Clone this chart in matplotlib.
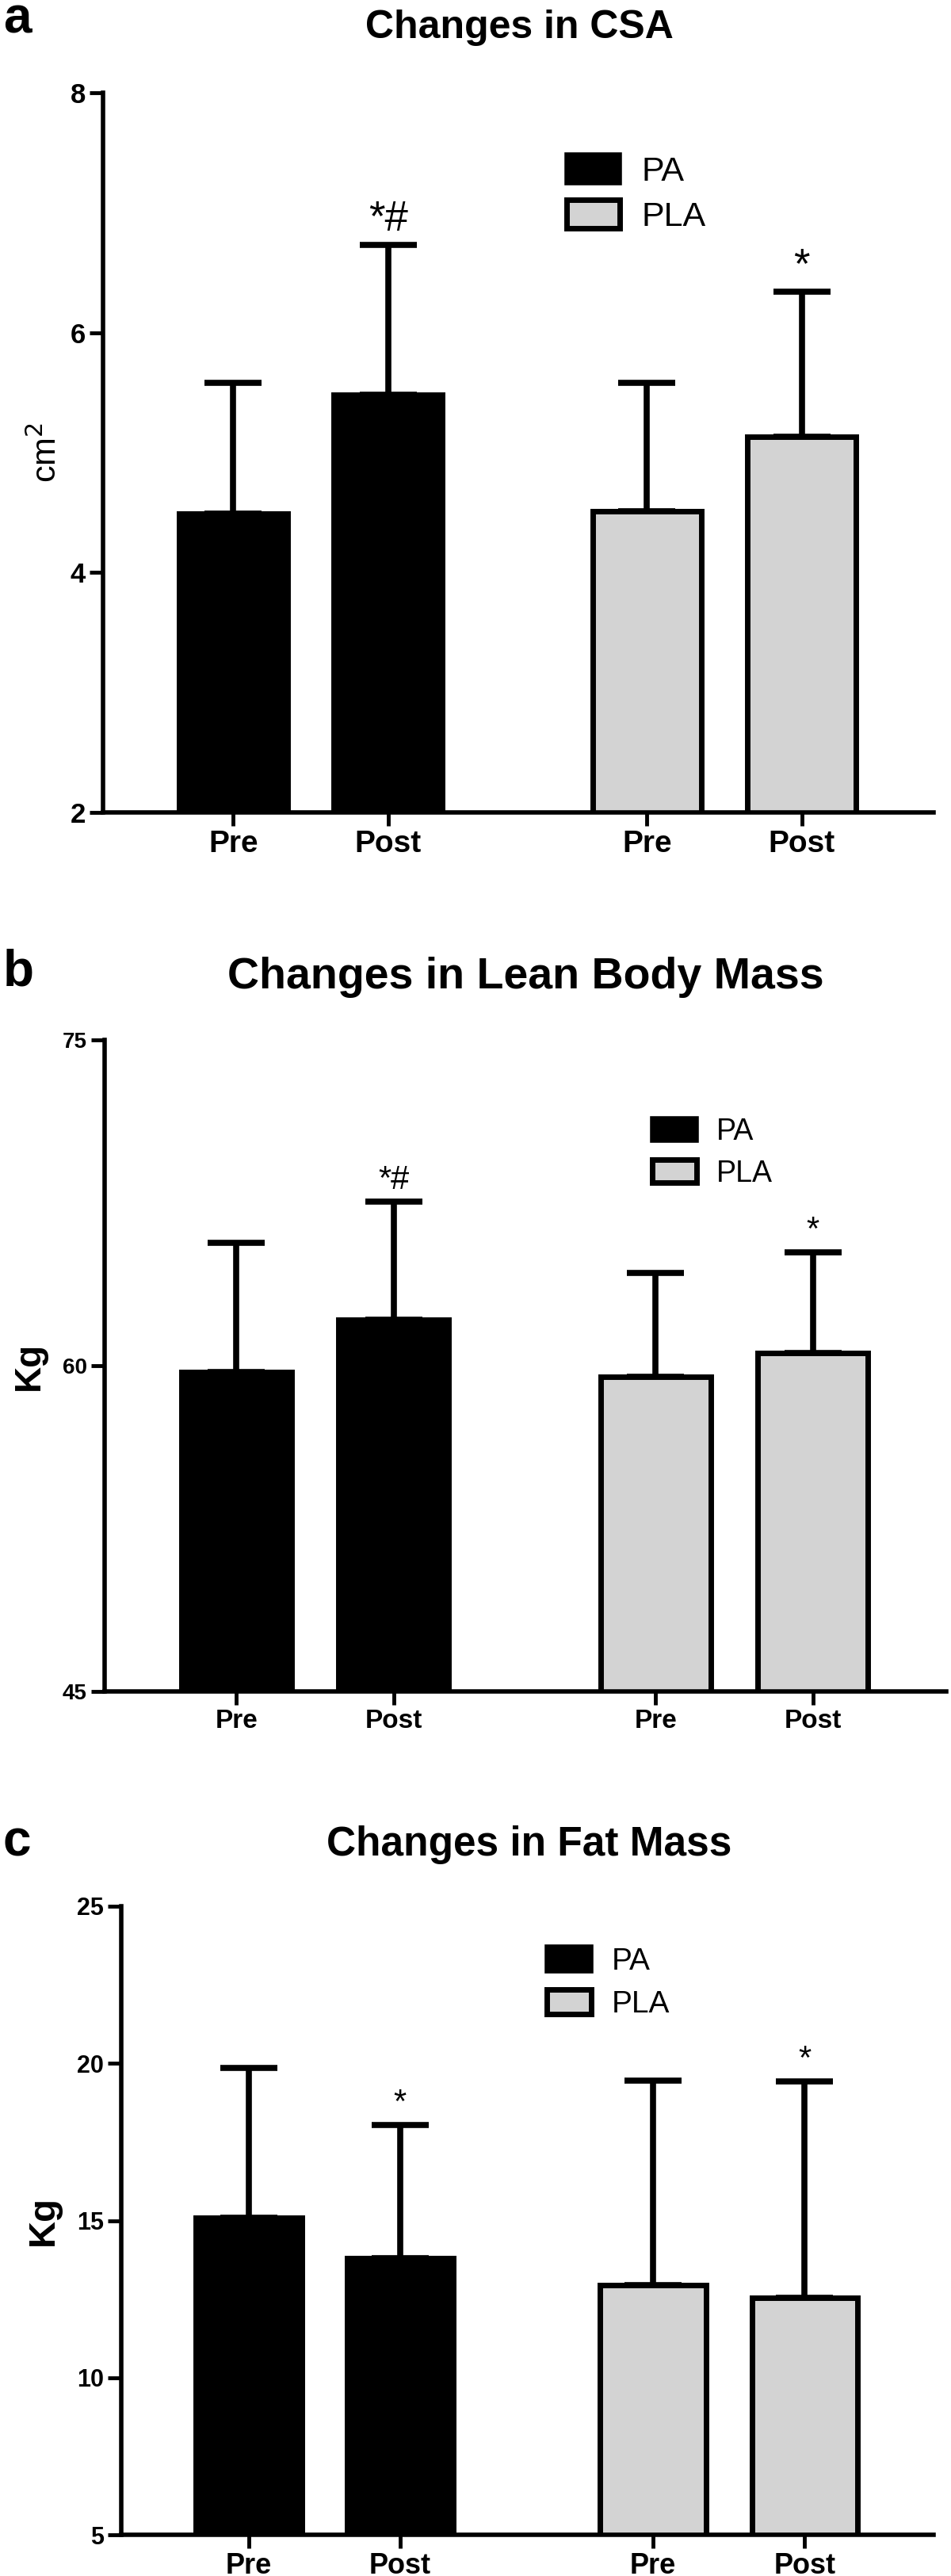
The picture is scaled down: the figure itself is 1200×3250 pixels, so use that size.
import numpy as np
import matplotlib
matplotlib.use("Agg")
import matplotlib.pyplot as plt
from matplotlib.patches import Patch

plt.rcParams['font.family'] = ['Liberation Sans', 'DejaVu Sans']

# data
groups = ['PA', 'PLA']
conditions = ['Pre', 'Post', 'Pre', 'Post']
x_pos = [0, 1, 2.67, 3.67]

csa_mean = [4.49, 5.48, 4.51, 5.13]
csa_sd = [1.09, 1.25, 1.07, 1.21]
csa_marks = ['', '*#', '', '*']

lbm_mean = [59.7, 62.1, 59.5, 60.6]
lbm_sd = [5.96, 5.44, 4.78, 4.63]
lbm_marks = ['', '*#', '', '*']

fm_mean = [15.1, 13.8, 12.95, 12.55]
fm_sd = [4.76, 4.23, 6.50, 6.87]
fm_marks = ['', '*', '', '*']

W, H = 1200, 3250
fig = plt.figure(figsize=(12, 32.5), dpi=100)

def box(left, right, top, bottom):
    return [left / W, 1 - bottom / H, (right - left) / W, (bottom - top) / H]

def panel(rect, means, sds, marks, ylim, yticks, ylabel, ylab_size, ylab_weight, ylab_pad,
          ytick_size, xtick_size, mark_size, leg_xy, leg_size, leg_hl, leg_hh, leg_sp):
    ax = fig.add_axes(rect)
    colors = ['black', 'black', '#d3d3d3', '#d3d3d3']
    ax.errorbar(x_pos, means, yerr=[np.zeros(4), sds], fmt='none', ecolor='black',
                elinewidth=5.5, capsize=26, capthick=5.5, zorder=1)
    ax.bar(x_pos, means, width=0.70, color=colors, edgecolor='black',
           linewidth=5, bottom=0, zorder=2)
    for xi, m, s, t in zip(x_pos, means, sds, marks):
        if t:
            ax.annotate(t, (xi, m + s), xytext=(0, 5), textcoords='offset points',
                        ha='center', va='bottom', fontsize=mark_size)
    ax.set_ylim(*ylim)
    ax.set_xlim(-0.84, 4.52)
    ax.set_yticks(yticks)
    ax.set_yticklabels([str(v) for v in yticks], fontsize=ytick_size, fontweight='bold')
    ax.set_xticks(x_pos)
    ax.set_xticklabels(conditions, fontsize=xtick_size, fontweight='bold')
    ax.set_ylabel(ylabel, fontsize=ylab_size, fontweight=ylab_weight, labelpad=ylab_pad)
    for s in ['top', 'right']:
        ax.spines[s].set_visible(False)
    for s in ['left', 'bottom']:
        ax.spines[s].set_linewidth(4)
    ax.tick_params(axis='both', direction='out', length=12, width=3.5, pad=4)
    handles = [Patch(facecolor='black', edgecolor='black', linewidth=4, label=groups[0]),
               Patch(facecolor='#d3d3d3', edgecolor='black', linewidth=5, label=groups[1])]
    ax.legend(handles=handles, loc='upper left', bbox_to_anchor=(leg_xy[0] / W, 1 - leg_xy[1] / H),
              bbox_transform=fig.transFigure, frameon=False, borderpad=0, borderaxespad=0,
              fontsize=leg_size, handlelength=leg_hl, handleheight=leg_hh,
              handletextpad=0.65, labelspacing=leg_sp)
    return ax

# panel a
panel(box(130, 1178, 117, 1025), csa_mean, csa_sd, csa_marks, (2, 8), [2, 4, 6, 8],
      r'cm$^2$', 31, 'normal', 6, 25, 28, 38, (715, 195), 31, 1.55, 0.9, 0.35)
fig.text(655, H - 35, 'Changes in CSA', transform=None, fontsize=36, fontweight='bold',
         ha='center', va='center')
fig.text(22 / W, 1 - 24 / H, 'a', fontsize=46, fontweight='bold', ha='center', va='center')

# panel b
panel(box(132, 1194, 1312, 2134), lbm_mean, lbm_sd, lbm_marks, (45, 75), [45, 60, 75],
      'Kg', 33, 'bold', 14, 20, 24, 30, (823, 1410), 27, 1.5, 0.8, 0.45)
fig.text(663 / W, 1 - 1233 / H, 'Changes in Lean Body Mass', fontsize=40, fontweight='bold',
         ha='center', va='center')
fig.text(23 / W, 1 - 1226 / H, 'b', fontsize=46, fontweight='bold', ha='center', va='center')

# panel c
panel(box(153, 1178, 2405, 3198), fm_mean, fm_sd, fm_marks, (5, 25), [5, 10, 15, 20, 25],
      'Kg', 34, 'bold', 14, 22, 26, 30, (690, 2456), 28, 1.45, 0.85, 0.45)
fig.text(668 / W, 1 - 2327 / H, 'Changes in Fat Mass', fontsize=37, fontweight='bold',
         ha='center', va='center')
fig.text(21 / W, 1 - 2325 / H, 'c', fontsize=46, fontweight='bold', ha='center', va='center')

fig.savefig('out.png', dpi=100)
